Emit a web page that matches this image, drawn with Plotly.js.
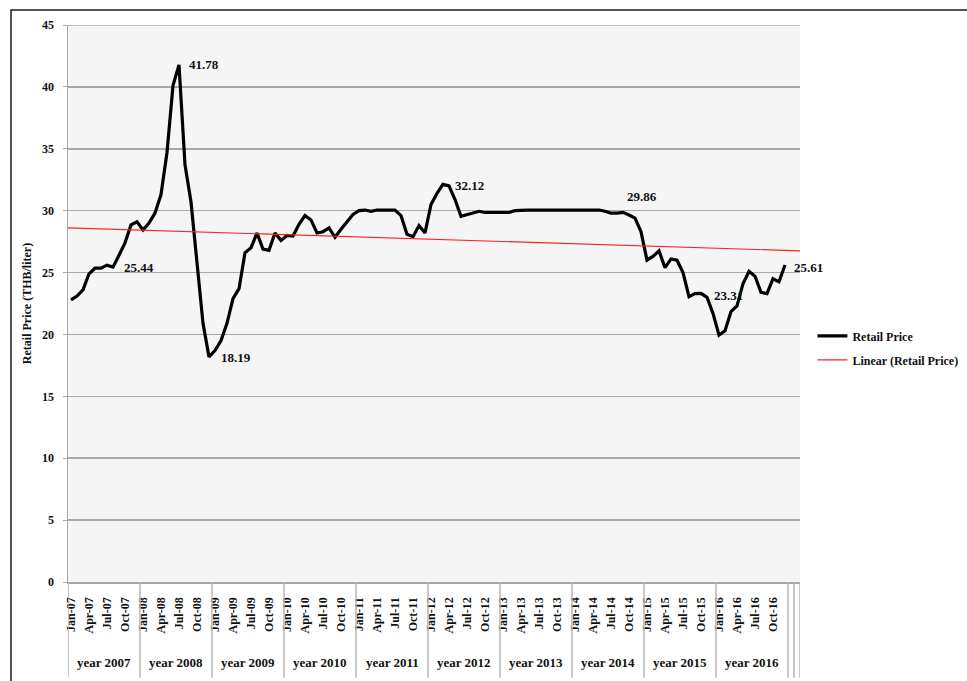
<!DOCTYPE html>
<html>
<head>
<meta charset="utf-8">
<script src="https://cdn.plot.ly/plotly-3.0.1.min.js"></script>
<style>
  html, body { margin: 0; padding: 0; background: #ffffff; }
  #chart { width: 967px; height: 681px; }
</style>
</head>
<body>
<div id="chart"></div>
<script>
// ---- Data (monthly retail price, THB/liter, Jan-2007 .. Dec-2016) ----
const price2007 = [22.8, 23.1, 23.6, 24.9, 25.35, 25.35, 25.6, 25.44, 26.4, 27.4, 28.85, 29.1];
const price2008 = [28.45, 29.0, 29.8, 31.3, 34.7, 40.1, 41.78, 33.7, 30.7, 25.5, 20.9, 18.19];
const price2009 = [18.7, 19.5, 20.9, 22.9, 23.7, 26.6, 27.0, 28.2, 26.9, 26.8, 28.2, 27.6];
const price2010 = [28.0, 27.95, 28.9, 29.6, 29.25, 28.2, 28.3, 28.6, 27.85, 28.5, 29.1, 29.7];
const price2011 = [30.0, 30.05, 29.95, 30.05, 30.05, 30.05, 30.05, 29.6, 28.1, 27.9, 28.8, 28.2];
const price2012 = [30.5, 31.4, 32.12, 32.0, 30.9, 29.55, 29.7, 29.85, 29.95, 29.85, 29.85, 29.85];
const price2013 = [29.85, 29.85, 30.0, 30.05, 30.05, 30.05, 30.05, 30.05, 30.05, 30.05, 30.05, 30.05];
const price2014 = [30.05, 30.05, 30.05, 30.05, 30.05, 29.95, 29.8, 29.8, 29.86, 29.65, 29.4, 28.3];
const price2015 = [26.0, 26.3, 26.75, 25.4, 26.1, 26.0, 25.0, 23.05, 23.3, 23.31, 23.0, 21.7];
const price2016 = [19.95, 20.3, 21.85, 22.3, 24.1, 25.1, 24.7, 23.4, 23.3, 24.5, 24.25, 25.61];

const monthTickLabels = [
  'Jan-07','Apr-07','Jul-07','Oct-07','Jan-08','Apr-08','Jul-08','Oct-08',
  'Jan-09','Apr-09','Jul-09','Oct-09','Jan-10','Apr-10','Jul-10','Oct-10',
  'Jan-11','Apr-11','Jul-11','Oct-11','Jan-12','Apr-12','Jul-12','Oct-12',
  'Jan-13','Apr-13','Jul-13','Oct-13','Jan-14','Apr-14','Jul-14','Oct-14',
  'Jan-15','Apr-15','Jul-15','Oct-15','Jan-16','Apr-16','Jul-16','Oct-16'
];
const yearLabels = ['year 2007','year 2008','year 2009','year 2010','year 2011',
                    'year 2012','year 2013','year 2014','year 2015','year 2016'];
const yTickValues = [0, 5, 10, 15, 20, 25, 30, 35, 40, 45];
// indices of the labelled points (local extremes / end points)
const labelledPoints = [7, 18, 23, 62, 92, 105, 119];

// ---- Build ----
const prices = [].concat(price2007, price2008, price2009, price2010, price2011,
                         price2012, price2013, price2014, price2015, price2016);
const idx = prices.map((_, i) => i);
const nCats = prices.length + 2; // two empty categories at the end

// least-squares linear trend
const n = prices.length;
const mx = idx.reduce((a, b) => a + b, 0) / n;
const my = prices.reduce((a, b) => a + b, 0) / n;
let sxy = 0, sxx = 0;
for (let i = 0; i < n; i++) { sxy += (idx[i] - mx) * (prices[i] - my); sxx += (idx[i] - mx) ** 2; }
const slope = sxy / sxx, icpt = my - slope * mx;
const trendX = [-0.5, nCats - 0.5];
const trendY = trendX.map(x => icpt + slope * x);

const FONT = 'Liberation Serif, Times New Roman, serif';

const traces = [
  { x: idx, y: prices, type: 'scatter', mode: 'lines', name: 'Retail Price',
    line: { color: '#000000', width: 3.2 }, hoverinfo: 'skip', legendgroup: 'a' },
  { x: trendX, y: trendY, type: 'scatter', mode: 'lines', name: 'Linear (Retail Price)',
    line: { color: '#ff2020', width: 1.2 }, hoverinfo: 'skip', legendgroup: 'b' }
];

const offsets = {
  7:   { xs: 9,  ys: 0,  xa: 'left' },
  18:  { xs: 8,  ys: 0,  xa: 'left' },
  23:  { xs: 10, ys: -1, xa: 'left' },
  62:  { xs: 10, ys: -1, xa: 'left' },
  92:  { xs: 2,  ys: 16, xa: 'left' },
  105: { xs: 11, ys: -2, xa: 'left' },
  119: { xs: 7,  ys: -2, xa: 'left' }
};

const annotations = labelledPoints.map(i => ({
  x: i, y: prices[i], xref: 'x', yref: 'y', text: prices[i].toFixed(2),
  showarrow: false, xanchor: offsets[i].xa, yanchor: 'middle',
  xshift: offsets[i].xs, yshift: offsets[i].ys,
  font: { family: FONT, size: 13, color: '#111', weight: 'bold' }
}));

// year group labels
yearLabels.forEach((t, k) => {
  annotations.push({
    x: k * 12 + 5.5, y: -0.1454, xref: 'x', yref: 'paper', text: t,
    showarrow: false, xanchor: 'center', yanchor: 'middle',
    font: { family: FONT, size: 13, color: '#111', weight: 'bold' }
  });
});

const shapes = [];
// year dividers below the axis (plus the two empty end categories)
const dividers = [];
for (let k = 0; k <= yearLabels.length; k++) dividers.push(k * 12 - 0.5);
dividers.push(120.5, 121.5);
dividers.forEach(x => shapes.push({
  type: 'line', xref: 'x', yref: 'paper', x0: x, x1: x, y0: 0, y1: -0.172,
  line: { color: '#b5b5b5', width: 1.5 }
}));
// top gridline at 45
shapes.push({ type: 'line', xref: 'paper', yref: 'y', x0: 0, x1: 1, y0: 45, y1: 45,
  line: { color: '#a8a8a8', width: 1.5 } });
// outer frame of the picture
shapes.push({ type: 'rect', xref: 'paper', yref: 'paper',
  x0: (11 - 68) / 732, x1: 1.3, y0: -0.25, y1: (582 - 10) / 557,
  line: { color: '#1a1a1a', width: 1.5 }, fillcolor: 'rgba(0,0,0,0)', layer: 'below' });

const layout = {
  width: 967, height: 681,
  margin: { l: 68, r: 167, t: 25, b: 99, autoexpand: false },
  paper_bgcolor: '#ffffff',
  plot_bgcolor: '#f5f5f5',
  font: { family: FONT, size: 12, color: '#111', weight: 'bold' },
  showlegend: true,
  legend: {
    x: 1.017, xanchor: 'left', y: 0.468, yanchor: 'top',
    bgcolor: 'rgba(0,0,0,0)', borderwidth: 0,
    font: { family: FONT, size: 12, color: '#111', weight: 'bold' },
    tracegroupgap: 5, itemwidth: 30
  },
  xaxis: {
    type: 'linear', range: [-0.5, nCats - 0.5],
    tickmode: 'array',
    tickvals: monthTickLabels.map((_, k) => k * 3),
    ticktext: monthTickLabels,
    tickangle: -90,
    tickfont: { family: FONT, size: 12, color: '#111', weight: 'bold' },
    ticks: '', ticklabelstandoff: 9,
    showgrid: false, zeroline: false,
    showline: true, linecolor: '#a8a8a8', linewidth: 1.5,
    fixedrange: true
  },
  yaxis: {
    range: [0, 45], tickmode: 'array', tickvals: yTickValues,
    ticktext: yTickValues.map(String),
    tickfont: { family: FONT, size: 12, color: '#111', weight: 'bold' },
    ticks: 'outside', ticklen: 4, tickcolor: '#a8a8a8', ticklabelstandoff: 6,
    showgrid: true, gridcolor: '#a8a8a8', gridwidth: 1.5,
    zeroline: false,
    showline: true, linecolor: '#a8a8a8', linewidth: 1.5,
    title: { text: 'Retail Price (THB/liter)', standoff: 8,
             font: { family: FONT, size: 12, color: '#111', weight: 'bold' } },
    fixedrange: true
  },
  annotations: annotations,
  shapes: shapes
};

Plotly.newPlot('chart', traces, layout, { displayModeBar: false, staticPlot: true });
</script>
</body>
</html>
